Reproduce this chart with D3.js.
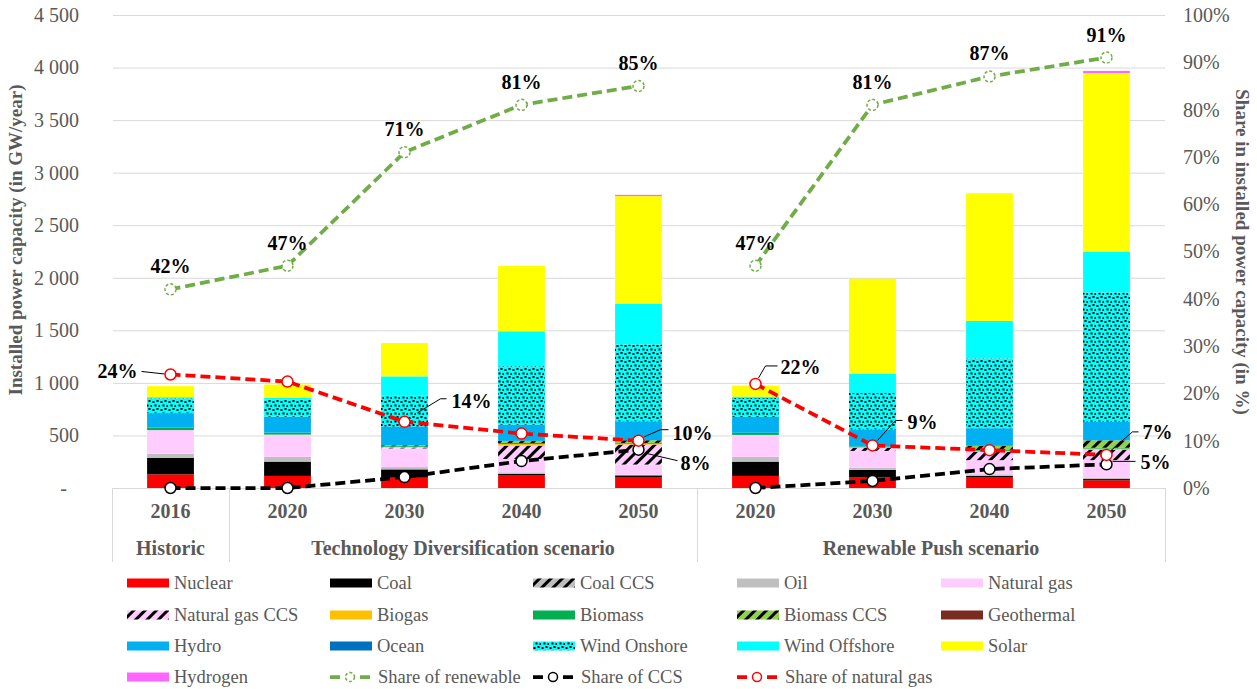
<!DOCTYPE html>
<html>
<head>
<meta charset="utf-8">
<script src="https://cdn.jsdelivr.net/npm/d3@7"></script>
<style>
body { margin: 0; background: #fff; }
text { font-family: "Liberation Serif", "Times New Roman", serif; }
</style>
</head>
<body>
<div id="chart"></div>
<script>
// categories
var years = ["2016", "2020", "2030", "2040", "2050", "2020", "2030", "2040", "2050"];
var groupNames = ["Historic", "Technology Diversification scenario", "Renewable Push scenario"];
var groupSizes = [1, 4, 4];

// installed capacity by source (GW/year), one value per category
var sources = ["Nuclear", "Coal", "Coal CCS", "Oil", "Natural gas", "Natural gas CCS", "Biogas", "Biomass",
  "Biomass CCS", "Geothermal", "Hydro", "Ocean", "Wind Onshore", "Wind Offshore", "Solar", "Hydrogen"];
var nuclear      = [130, 115,  98, 124,  105, 115, 105,  105,   73];
var coal         = [158, 136,  79,  10,   15, 136,  67,   10,   12];
var coalCcs      = [  0,   0,   0,   0,    0,   0,   0,    0,    0];
var oil          = [ 38,  45,  22,  15,    8,  45,  22,   15,   10];
var naturalGas   = [225, 212, 178, 127,   95, 209, 159,  135,  170];
var naturalGasCcs= [  0,   0,   8, 127,  190,   0,  30,   80,  100];
var biogas       = [  0,   0,   5,  15,    8,   0,   5,    8,   10];
var biomass      = [ 25,  19,   8,  10,    8,  20,   8,    8,    8];
var biomassCcs   = [  0,   0,   8,  20,   25,   0,   0,   40,   70];
var geothermal   = [  0,   0,   0,   0,    0,   0,   0,    0,    0];
var hydro        = [136, 152, 180, 155,  181, 152, 162,  168,  178];
var ocean        = [  0,   0,   0,   0,    0,   0,   0,    0,    0];
var windOnshore  = [140, 165, 292, 555,  730, 180, 345,  663, 1230];
var windOffshore = [ 12,  13, 184, 333,  387,  12, 184,  358,  387];
var solar        = [105, 127, 317, 621, 1025, 105, 904, 1215, 1700];
var hydrogen     = [  0,   0,   0,   0,   12,   0,   0,    0,   20];

// shares (in %)
var shareRenewable = [42, 47, 71, 81, 85, 47, 81, 87, 91];
var shareCcs       = [0, 0, 2.3, 5.7, 8.1, 0, 1.5, 4, 5];
var shareGas       = [24, 22.5, 14, 11.5, 10, 22, 9, 8, 7];

var leftTicks = [0, 500, 1000, 1500, 2000, 2500, 3000, 3500, 4000, 4500];
var rightTicks = [0, 10, 20, 30, 40, 50, 60, 70, 80, 90, 100];

var values = [nuclear, coal, coalCcs, oil, naturalGas, naturalGasCcs, biogas, biomass, biomassCcs,
  geothermal, hydro, ocean, windOnshore, windOffshore, solar, hydrogen];

var fills = {
  "Nuclear": "#ff0000", "Coal": "#000000", "Coal CCS": "url(#hatch-oil)", "Oil": "#bfbfbf",
  "Natural gas": "#ffccff", "Natural gas CCS": "url(#hatch-gas)", "Biogas": "#ffc000", "Biomass": "#00b050",
  "Biomass CCS": "url(#hatch-bio)", "Geothermal": "#7b2c20", "Hydro": "#00b0f0", "Ocean": "#0070c0",
  "Wind Onshore": "url(#dots)", "Wind Offshore": "#00ffff", "Solar": "#ffff00", "Hydrogen": "#ff66ff"
};

var W = 1257, H = 689;
var gray = "#595959";

var svg = d3.select("#chart").append("svg").attr("width", W).attr("height", H);
var defs = svg.append("defs");

function hatch(id, bg) {
  var p = defs.append("pattern").attr("id", id).attr("patternUnits", "userSpaceOnUse")
    .attr("width", 8).attr("height", 8).attr("patternTransform", "rotate(45)");
  p.append("rect").attr("width", 8).attr("height", 8).attr("fill", bg);
  p.append("rect").attr("width", 3).attr("height", 8).attr("fill", "#000");
}
hatch("hatch-oil", "#bfbfbf");
hatch("hatch-gas", "#ffccff");
hatch("hatch-bio", "#92d050");

var dp = defs.append("pattern").attr("id", "dots").attr("patternUnits", "userSpaceOnUse")
  .attr("width", 8).attr("height", 8);
dp.append("rect").attr("width", 8).attr("height", 8).attr("fill", "#00ffff");
[[0.5, 1], [4.5, 0], [2.5, 4.5], [6.5, 5]].forEach(function(d) {
  dp.append("rect").attr("x", d[0]).attr("y", d[1]).attr("width", 2).attr("height", 2).attr("fill", "#000");
});

var x = d3.scaleBand().domain(d3.range(years.length)).range([112, 1165]).padding(0);
var y = d3.scaleLinear().domain([0, 4500]).range([488, 15]);
var y2 = d3.scaleLinear().domain([0, 100]).range([488, 15]);

// gridlines
svg.append("g").selectAll("line").data(leftTicks).enter().append("line")
  .attr("x1", 113).attr("x2", 1165)
  .attr("y1", function(d) { return y(d) + 0.5; }).attr("y2", function(d) { return y(d) + 0.5; })
  .attr("stroke", "#d9d9d9").attr("stroke-width", 1);

// left axis
var ax = svg.append("g").attr("transform", "translate(112,0)")
  .call(d3.axisLeft(y).tickValues(leftTicks).tickSize(0).tickPadding(33)
    .tickFormat(function(d) { return d === 0 ? "-" : d3.format(",")(d).replace(",", " "); }));
ax.select(".domain").remove();
ax.selectAll("text").attr("fill", gray).style("font-size", "20px")
  .style("font-family", "'Liberation Serif', serif")
  .attr("dx", function(d) { return d === 0 ? -12 : 0; });

// right axis
var ax2 = svg.append("g").attr("transform", "translate(1165,0)")
  .call(d3.axisRight(y2).tickValues(rightTicks).tickSize(0).tickPadding(18)
    .tickFormat(function(d) { return d + "%"; }));
ax2.select(".domain").remove();
ax2.selectAll("text").attr("fill", gray).style("font-size", "20px")
  .style("font-family", "'Liberation Serif', serif");

// axis titles
svg.append("text").attr("transform", "translate(15,240) rotate(-90)").attr("text-anchor", "middle")
  .attr("dy", "0.35em").attr("fill", gray).style("font-size", "19px").style("font-weight", "bold")
  .text("Installed power capacity (in GW/year)");
svg.append("text").attr("transform", "translate(1243,252) rotate(90)").attr("text-anchor", "middle")
  .attr("dy", "0.35em").attr("fill", gray).style("font-size", "19px").style("font-weight", "bold")
  .text("Share in installed power capacity (in %)");

// stacked bars
var table = years.map(function(yr, i) {
  var row = {idx: i};
  sources.forEach(function(s, k) { row[s] = values[k][i]; });
  return row;
});
var stack = d3.stack().keys(sources)(table);
var bw = x.bandwidth() * 0.4;

svg.append("g").selectAll("g").data(stack).enter().append("g")
  .attr("fill", function(d) { return fills[d.key]; })
  .selectAll("rect").data(function(d) { return d; }).enter().append("rect")
  .attr("x", function(d) { return x(d.data.idx) + (x.bandwidth() - bw) / 2; })
  .attr("width", bw)
  .attr("y", function(d) { return y(d[1]); })
  .attr("height", function(d) { return y(d[0]) - y(d[1]); });

// category axis box
var cat = svg.append("g").attr("stroke", "#d9d9d9").attr("stroke-width", 1);
cat.append("line").attr("x1", 112).attr("x2", 1165).attr("y1", 488.5).attr("y2", 488.5);
var bounds = [0];
groupSizes.reduce(function(acc, n) { bounds.push(acc + n); return acc + n; }, 0);
bounds.forEach(function(b) {
  var xx = b < years.length ? x(b) : x(years.length - 1) + x.bandwidth();
  cat.append("line").attr("x1", Math.round(xx) + 0.5).attr("x2", Math.round(xx) + 0.5)
    .attr("y1", 488).attr("y2", 562);
});

svg.append("g").selectAll("text").data(years).enter().append("text")
  .attr("x", function(d, i) { return x(i) + x.bandwidth() / 2; }).attr("y", 511).attr("dy", "0.35em")
  .attr("text-anchor", "middle").attr("fill", gray).style("font-size", "20px").style("font-weight", "bold")
  .text(function(d) { return d; });

svg.append("g").selectAll("text").data(groupNames).enter().append("text")
  .attr("x", function(d, i) {
    var a = bounds[i], b = bounds[i + 1] - 1;
    return (x(a) + x(b) + x.bandwidth()) / 2;
  })
  .attr("y", 548).attr("dy", "0.35em")
  .attr("text-anchor", "middle").attr("fill", gray).style("font-size", "20px").style("font-weight", "bold")
  .text(function(d) { return d; });

// share lines (historic joins the first scenario, break before the second)
var segments = [d3.range(0, 5), d3.range(5, 9)];
var lines = [
  {name: "Share of renewable", values: shareRenewable, color: "#70ad47", dashedMarker: true, key: "ren"},
  {name: "Share of CCS", values: shareCcs, color: "#000000", dashedMarker: false, key: "ccs"},
  {name: "Share of natural gas", values: shareGas, color: "#ff0000", dashedMarker: false, key: "gas"}
];
var cx = function(i) { return x(i) + x.bandwidth() / 2; };

lines.forEach(function(l) {
  var line = d3.line().x(function(i) { return cx(i); }).y(function(i) { return y2(l.values[i]); });
  segments.forEach(function(seg) {
    svg.append("path").datum(seg).attr("d", line).attr("fill", "none")
      .attr("stroke", l.color).attr("stroke-width", 3.75).attr("stroke-dasharray", "10,5");
  });
  svg.append("g").selectAll("circle").data(l.values).enter().append("circle")
    .attr("cx", function(d, i) { return cx(i); }).attr("cy", function(d) { return y2(d); })
    .attr("r", 5.5).attr("fill", "#fff").attr("stroke", l.color).attr("stroke-width", 1.5)
    .attr("stroke-dasharray", l.dashedMarker ? "3,2" : null);
});

// data labels: offset from the marker, leader points relative to marker
var labelPlace = {
  "gas-0": {dx: -33, dy: -3, anchor: "end", leader: [[-29, -3], [-6, -0.5]]},
  "gas-2": {dx: 47, dy: -21, anchor: "start", leader: [[42, -23], [36, -23], [13, -9]]},
  "gas-4": {dx: 34, dy: -8, anchor: "start", leader: [[30, -11], [22, -11], [6, -4]]},
  "gas-5": {dx: 25, dy: -17, anchor: "start", leader: [[22, -18], [10, -18], [3, -6]]},
  "gas-6": {dx: 35, dy: -23, anchor: "start", leader: [[30, -25], [23, -25], [5, -5]]},
  "gas-8": {dx: 36, dy: -23, anchor: "start", leader: [[32, -23], [26, -23], [4, -4]]},
  "ccs-4": {dx: 42, dy: 13, anchor: "start", leader: [[39, 11], [9, 4]]},
  "ccs-8": {dx: 34, dy: -2, anchor: "start", leader: [[29, -3], [6, -3]]}
};
var labelled = {ren: [0, 1, 2, 3, 4, 5, 6, 7, 8], gas: [0, 2, 4, 5, 6, 8], ccs: [4, 8]};

lines.forEach(function(l) {
  labelled[l.key].forEach(function(i) {
    var v = l.values[i];
    var px = cx(i), py = y2(v);
    var p = labelPlace[l.key + "-" + i] || {dx: 0, dy: -23, anchor: "middle"};
    if (p.leader) {
      svg.append("path")
        .attr("d", d3.line()(p.leader.map(function(q) { return [px + q[0], py + q[1]]; })))
        .attr("fill", "none").attr("stroke", "#000").attr("stroke-width", 1);
    }
    svg.append("text").attr("x", px + p.dx).attr("y", py + p.dy).attr("dy", "0.35em")
      .attr("text-anchor", p.anchor).attr("fill", "#000")
      .style("font-size", "20px").style("font-weight", "bold")
      .text(Math.round(v) + "%");
  });
});

// legend
var legendItems = sources.map(function(s) { return {name: s, type: "bar"}; })
  .concat(lines.map(function(l) { return {name: l.name, type: "line", line: l}; }));
var colX = [127, 330, 533, 737, 941];
var rowY = [583, 615, 646, 677];

var lg = svg.append("g").selectAll("g").data(legendItems).enter().append("g")
  .attr("transform", function(d, i) { return "translate(" + colX[i % 5] + "," + rowY[Math.floor(i / 5)] + ")"; });

lg.filter(function(d) { return d.type === "bar"; }).append("rect")
  .attr("x", 0).attr("y", -4.5).attr("width", 42).attr("height", 9)
  .attr("fill", function(d) { return fills[d.name]; });

var ll = lg.filter(function(d) { return d.type === "line"; });
ll.append("line").attr("x1", 0).attr("x2", 40).attr("y1", 0).attr("y2", 0)
  .attr("stroke", function(d) { return d.line.color; }).attr("stroke-width", 3.75)
  .attr("stroke-dasharray", "10,20");
ll.append("circle").attr("cx", 20).attr("cy", 0).attr("r", 4.5).attr("fill", "#fff")
  .attr("stroke", function(d) { return d.line.color; }).attr("stroke-width", 1.5)
  .attr("stroke-dasharray", function(d) { return d.line.dashedMarker ? "3,2" : null; });

lg.append("text").attr("x", function(d) { return d.type === "line" ? 48 : 47; }).attr("y", 0).attr("dy", "0.35em")
  .attr("fill", gray).style("font-size", "18.5px")
  .text(function(d) { return d.name; });
</script>
</body>
</html>
